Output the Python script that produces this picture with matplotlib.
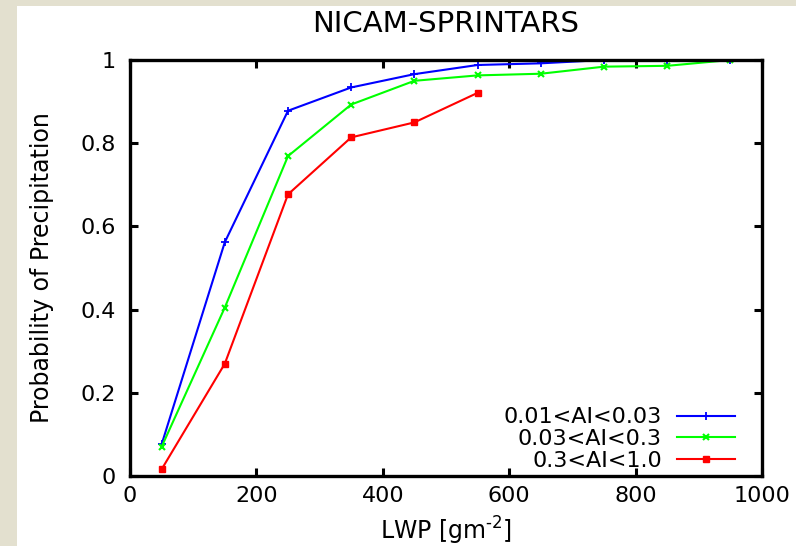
import matplotlib
matplotlib.use("Agg")
import matplotlib.pyplot as plt
from matplotlib.patches import Rectangle
from matplotlib.ticker import FormatStrFormatter

plt.rcParams['font.family'] = ['DejaVu Sans']
plt.rcParams['mathtext.fontset'] = 'dejavusans'

lwp = [50, 150, 250, 350, 450, 550, 650, 750, 850, 950]
blue_vals = [0.076, 0.562, 0.878, 0.934, 0.966, 0.988, 0.992, 1.0, 1.0, 1.0]
green_vals = [0.070, 0.405, 0.769, 0.893, 0.950, 0.963, 0.967, 0.984, 0.986, 1.0]
red_lwp = [50, 150, 250, 350, 450, 550]
red_vals = [0.016, 0.270, 0.677, 0.814, 0.850, 0.921]
labels = ["0.01<AI<0.03", "0.03<AI<0.3", "0.3<AI<1.0"]
xticks = [0, 200, 400, 600, 800, 1000]
yticks = [0, 0.2, 0.4, 0.6, 0.8, 1]

W, H = 796, 546
fig = plt.figure(figsize=(W / 100, H / 100), dpi=100, facecolor='#e3e0cf')
fig.patches.append(Rectangle((17 / W, 0), 1 - 17 / W, 1 - 6 / H,
                             transform=fig.transFigure, facecolor='white',
                             edgecolor='none', zorder=-10))

ax = fig.add_axes([130 / W, (H - 476) / H, 632 / W, 416 / H])
ax.set_zorder(5)
ax.set_facecolor('white')

ax.plot(lwp, blue_vals, color='#0000ff', lw=1.5, marker='+', ms=6, mew=1.3, label=labels[0])
ax.plot(lwp, green_vals, color='#00ff00', lw=1.5, marker='x', ms=4.5, mew=1.5, label=labels[1])
ax.plot(red_lwp, red_vals, color='#ff0000', lw=1.5, marker='s', ms=4, mew=1.0, label=labels[2])

ax.set_xlim(0, 1000)
ax.set_ylim(0, 1)
ax.set_xticks(xticks)
ax.set_yticks(yticks)
ax.yaxis.set_major_formatter(FormatStrFormatter('%g'))
ax.xaxis.set_major_formatter(FormatStrFormatter('%g'))

for s in ax.spines.values():
    s.set_linewidth(2.4)
ax.tick_params(direction='in', length=5.5, width=2.2, top=True, right=True,
               labelsize=16)
ax.tick_params(axis='x', pad=7.5)
ax.tick_params(axis='y', pad=10)

ax.set_title('NICAM-SPRINTARS', fontsize=21, pad=20)
ax.set_xlabel(r'LWP [gm$^{\text{-}2}$]', fontsize=17, labelpad=6)
ax.set_ylabel('Probability of Precipitation', fontsize=17, labelpad=19)

leg = ax.legend(loc='lower right', bbox_to_anchor=(0.957, 0.012),
                markerfirst=False, frameon=False, fontsize=16,
                handlelength=2.6, handletextpad=0.68, labelspacing=0.08,
                borderaxespad=0, borderpad=0)

fig.savefig('out.png', dpi=100, facecolor=fig.get_facecolor())
